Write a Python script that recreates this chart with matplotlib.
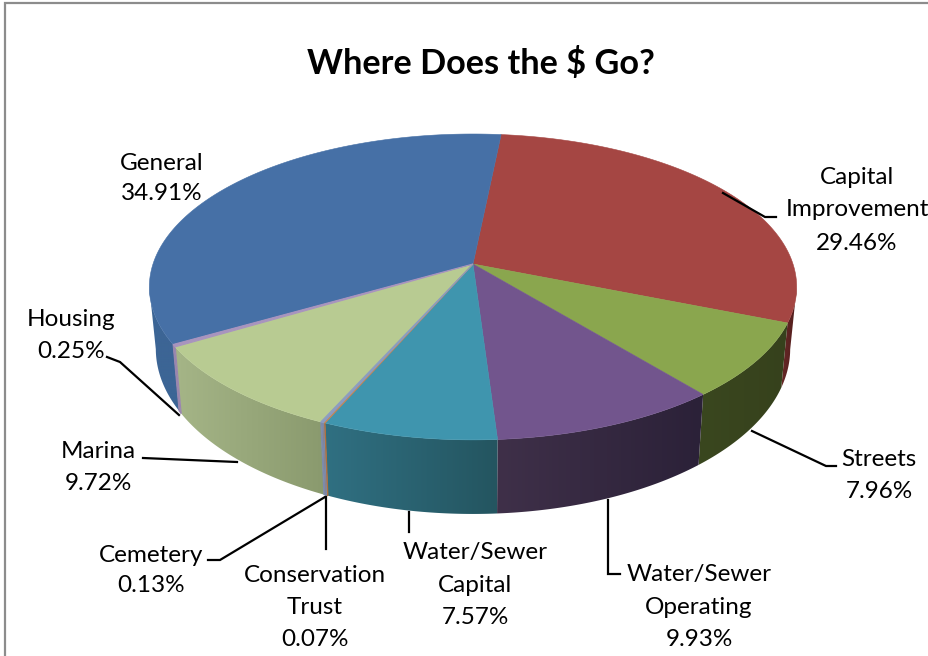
import numpy as np
import matplotlib
matplotlib.use("Agg")
import matplotlib.pyplot as plt
from matplotlib.colors import to_rgb
from matplotlib.patches import Polygon

plt.rcParams['font.family'] = ['Lato', 'DejaVu Sans']

# budget shares, clockwise from the top of the pie
categories = ["Capital\nImprovement", "Streets", "Water/Sewer\nOperating", "Water/Sewer\nCapital",
              "Conservation\nTrust", "Cemetery", "Marina", "Housing", "General"]
shares = [29.46, 7.96, 9.93, 7.57, 0.07, 0.13, 9.72, 0.25, 34.91]

top_colors = ["#A54643", "#8AA64E", "#72558D", "#3F95AE", "#C8854F", "#8C9CC0", "#B8CB92", "#A894BE", "#4670A6"]
wall_left = ["#6A2A28", "#3A471F", "#3F3049", "#307082", "#B0703C", "#7C8AAC", "#A5B587", "#9A86AE", "#3C6595"]
wall_right = ["#4E1C1B", "#36411C", "#2B2138", "#245560", "#B0703C", "#7C8AAC", "#8A9A6E", "#9A86AE", "#3C6595"]

# pie layout in pixels
cx, cy = 473, 264
half_w, half_h = 320, 149.5
tilt = 0.15
start_deg = 5.8
bottom_x, bottom_y, drop = 0.98, 1.08, 60


def rim(deg):
    # top rim point for an angle measured clockwise from the far side
    t = np.radians(deg)
    den = 1 + tilt * np.cos(t)
    return cx + half_w * np.sin(t) / den, cy - half_h * np.cos(t) / den


def base(x, y):
    # same rim point moved down to the lower face of the disc
    return cx + (x - cx) * bottom_x, cy + (y - cy) * bottom_y + drop


fig = plt.figure(figsize=(9.29, 6.56), dpi=100)
ax = fig.add_axes([0, 0, 1, 1])

# chart frame, only top and left fall inside the image
ax.plot([5, 5, 929], [656, 3, 3], color="#8C8C8C", lw=1.6, solid_joinstyle="miter")

edges = start_deg + np.concatenate([[0], np.cumsum(shares)]) * 3.6

# side walls first, only the arc between the two widest points shows
for i in range(len(shares)):
    a = np.linspace(edges[i], edges[i + 1], 400)
    a = a[np.cos(np.radians(a)) < -tilt]
    if len(a) < 2:
        continue
    x, y = rim(a)
    xb, yb = base(x, y)
    outline = np.column_stack([np.r_[x, xb[::-1]], np.r_[y, yb[::-1]]])
    thin = shares[i] < 1
    wall = Polygon(outline, closed=True, facecolor="none", edgecolor=wall_right[i] if thin else "none",
                   lw=0.8, zorder=2.2 if thin else 2)
    ax.add_patch(wall)
    # shade runs left to right on screen, clipped to the wall outline
    steps = np.linspace(0, 1, 64)[:, None]
    ramp = (np.array(to_rgb(wall_left[i])) * (1 - steps) + np.array(to_rgb(wall_right[i])) * steps)[None, :, :]
    x0, x1 = outline[:, 0].min() - 1, outline[:, 0].max() + 1
    y0, y1 = outline[:, 1].min() - 1, outline[:, 1].max() + 1
    im = ax.imshow(ramp, extent=[x0, x1, y1, y0], aspect="auto", interpolation="bilinear", zorder=2.1)
    im.set_clip_path(wall)

for i in range(len(shares)):
    a = np.linspace(edges[i], edges[i + 1], 120)
    x, y = rim(a)
    pts = np.column_stack([np.r_[cx, x], np.r_[cy, y]])
    thin = shares[i] < 1
    ax.add_patch(Polygon(pts, closed=True, facecolor=top_colors[i], edgecolor=top_colors[i],
                         lw=0.8 if thin else 0.4, zorder=4 if thin else 3))

# leader lines
leaders = [
    ([723, 765, 776], [193, 217, 217]),
    ([752, 826, 836], [431, 466, 466]),
    ([608, 608, 620], [500, 574, 574]),
    ([409, 409], [512, 532]),
    ([326, 326], [497, 549]),
    ([325, 220, 208], [497, 560, 560]),
    ([237, 143], [462, 458]),
    ([179, 120, 107], [415, 362, 357]),
]
for lx, ly in leaders:
    ax.plot(lx, ly, color="black", lw=1.6, zorder=5, solid_joinstyle="miter")

# data labels, name lines then the share
label_x = [857, 879, 699, 475, 315, 151, 98, 71, 162]
label_y = [[178, 210, 243], [460, 491], [574, 607, 639], [552, 585, 618],
           [576, 607, 640], [555, 586], [452, 483], [320, 352], [163, 194]]
for i, name in enumerate(categories):
    lines = name.split("\n") + ["%.2f%%" % shares[i]]
    for line, ty in zip(lines, label_y[i]):
        ax.text(label_x[i], ty, line, ha="center", va="center", fontsize=17.5, color="black", zorder=6)

ax.text(481, 64, "Where Does the $ Go?", ha="center", va="center", fontsize=24.7, fontweight="bold", color="black")

ax.set_xlim(0, 929)
ax.set_ylim(656, 0)
ax.axis("off")

fig.savefig("out.png", dpi=100)
